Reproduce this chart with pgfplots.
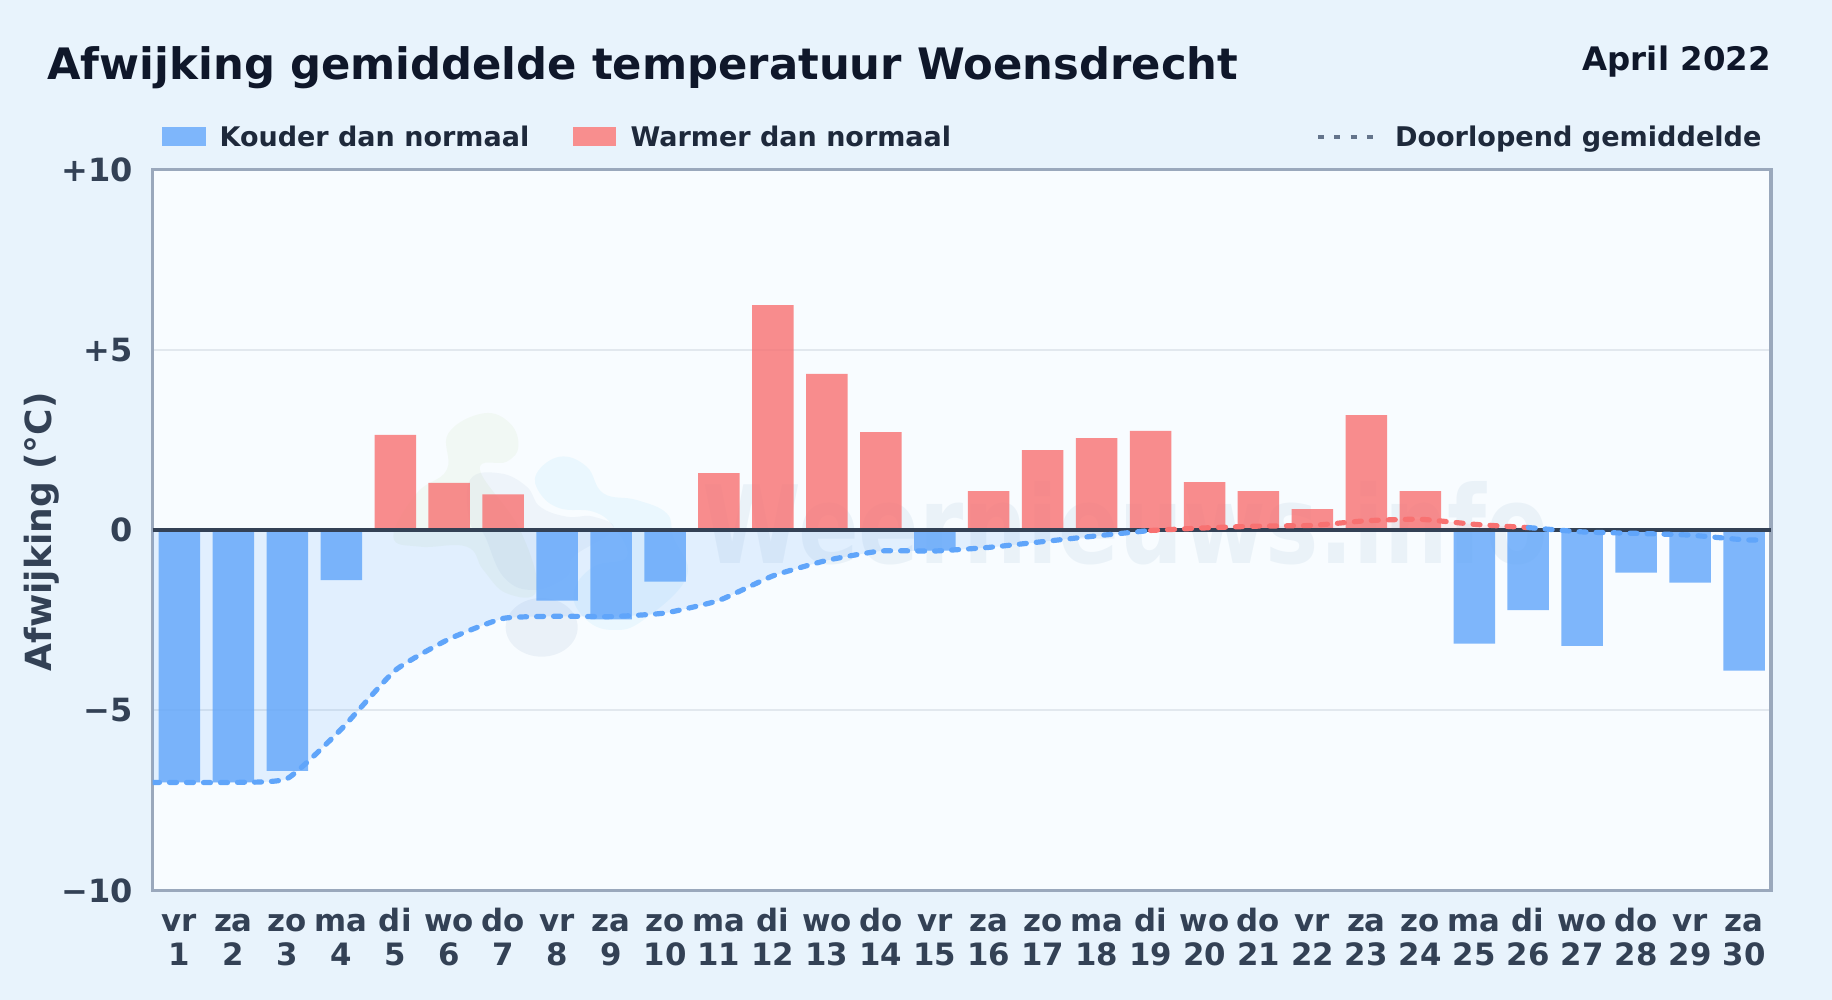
\documentclass[border=0pt]{standalone}
\usepackage{fontspec}
\usepackage{graphicx}
\usepackage{pgfplots}
\pgfplotsset{compat=1.18}
\setmainfont{DejaVu Sans}

\definecolor{pagebg}{HTML}{E8F3FC}
\definecolor{plotbg}{HTML}{F8FCFF}
\definecolor{coldbar}{HTML}{60A5FA}
\definecolor{warmbar}{HTML}{F87171}
\definecolor{coldswatch}{HTML}{7EB6FB}
\definecolor{warmswatch}{HTML}{F88E8E}
\definecolor{frame}{HTML}{9AA8BC}
\definecolor{gridc}{HTML}{E2E8EE}
\definecolor{ink}{HTML}{0F172A}
\definecolor{legendink}{HTML}{1E293B}
\definecolor{tickink}{HTML}{334155}
\definecolor{dashgrey}{HTML}{64748B}
\definecolor{logogreen}{HTML}{A3C97A}
\definecolor{logogrey}{HTML}{7F9DC0}
\definecolor{logoblue}{HTML}{38BDF8}
\definecolor{markcol}{HTML}{4A7FB0}

\newcommand{\fs}[1]{\bfseries\fontsize{#1}{#1}\selectfont}

\begin{document}
\begin{tikzpicture}
% page is 1832x1000 px, 1 px = 0.5 pt
\useasboundingbox (0,0) rectangle (916pt,500pt);
\fill[pagebg] (0,0) rectangle (916pt,500pt);
\fill[plotbg] (76.25pt,54.7pt) rectangle (885.5pt,415.2pt);

% watermark logo
\begin{scope}[shift={(180pt,305pt)},x=0.16667pt,y=-0.16667pt]
\fill[logogreen,opacity=0.08] plot[smooth cycle,tension=0.7] coordinates {
 (370,70)(450,100)(475,170)(440,215)(360,240)(480,420)(530,600)(440,610)(370,540)(320,470)(180,470)(100,440)(170,310)(260,240)(265,130)};
\fill[logogrey,opacity=0.08] plot[smooth cycle,tension=0.7] coordinates {
 (330,270)(420,250)(500,290)(540,350)(620,380)(700,380)(760,420)(640,500)(620,560)(520,600)(430,560)(370,430)(330,400)};
\fill[logogrey,opacity=0.11] (545,712) ellipse [x radius=108,y radius=88];
\fill[logoblue,opacity=0.07] plot[smooth cycle,tension=0.7] coordinates {
 (530,250)(600,200)(680,230)(730,310)(830,330)(920,370)(940,440)(980,560)(850,690)(760,720)(680,690)(640,610)(700,530)(800,500)(760,410)(700,365)(600,355)(540,310)};
\end{scope}
\node[anchor=base west,inner sep=0,text=markcol,opacity=0.08] at (351pt,218pt)
  {\scalebox{0.83}[1]{\fs{54}Weernieuws.info}};

\begin{axis}[
    at={(76.25pt,54.7pt)},
    anchor=south west,
    scale only axis,
    width=809.25pt,
    height=360.5pt,
    xmin=0.5, xmax=30.5,
    ymin=-10, ymax=10,
    xtick={1,...,30},
    xticklabels={{vr\\1},{za\\2},{zo\\3},{ma\\4},{di\\5},{wo\\6},{do\\7},{vr\\8},{za\\9},{zo\\10},
      {ma\\11},{di\\12},{wo\\13},{do\\14},{vr\\15},{za\\16},{zo\\17},{ma\\18},{di\\19},{wo\\20},
      {do\\21},{vr\\22},{za\\23},{zo\\24},{ma\\25},{di\\26},{wo\\27},{do\\28},{vr\\29},{za\\30}},
    ytick={-10,-5,0,5,10},
    yticklabels={−10,−5,0,+5,+10},
    major tick length=0pt,
    ymajorgrids=true,
    grid style={gridc,line width=1pt},
    axis line style={frame,line width=1.7pt},
    tick label style={tickink},
    xticklabel style={align=center,anchor=north,inner sep=0pt,yshift=-26.2pt,text height=11pt,
      font=\bfseries\fontsize{15.4}{16.8}\selectfont},
    yticklabel style={anchor=east,inner sep=0pt,xshift=-9.6pt,font=\fs{16}},
]

% area between running mean and zero
\addplot[draw=none,fill=coldbar,fill opacity=0.15,smooth,tension=0.3] coordinates {
  (0.5,-7.0)(1,-7.0)(2,-7.0)(3,-6.89)(4,-5.52)(5,-3.89)(6,-3.02)(7,-2.45)(8,-2.39)(9,-2.40)(10,-2.30)
  (11,-1.95)(12,-1.27)(13,-0.84)(14,-0.58)(15,-0.58)(16,-0.48)(17,-0.32)(18,-0.16)(19,-0.01)} \closedcycle;
\addplot[draw=none,fill=warmbar,fill opacity=0.1,smooth,tension=0.3] coordinates {
  (19,0)(20,0.06)(21,0.11)(22,0.13)(23,0.26)(24,0.30)(25,0.16)(26,0.07)} \closedcycle;

% bars
\addplot[ybar,bar width=20.75pt,bar shift=0pt,draw=none,fill=coldbar,fill opacity=0.8] coordinates {
  (1,-7.0)(2,-7.0)(3,-6.68)(4,-1.39)(8,-1.96)(9,-2.48)(10,-1.43)(15,-0.57)
  (25,-3.15)(26,-2.22)(27,-3.21)(28,-1.18)(29,-1.46)(30,-3.90)};
\addplot[ybar,bar width=20.75pt,bar shift=0pt,draw=none,fill=warmbar,fill opacity=0.8] coordinates {
  (5,2.64)(6,1.31)(7,0.99)(11,1.58)(12,6.24)(13,4.33)(14,2.72)(16,1.08)(17,2.22)(18,2.55)(19,2.75)
  (20,1.33)(21,1.08)(22,0.58)(23,3.19)(24,1.08)};

% zero line
\addplot[tickink,line width=2.2pt] coordinates {(0.5,0)(30.5,0)};

% running mean
\addplot[coldbar,line width=2.6pt,line cap=round,dash pattern=on 3.5pt off 5pt,smooth,tension=0.3] coordinates {
  (0.5,-7.0)(1,-7.0)(2,-7.0)(3,-6.89)(4,-5.52)(5,-3.89)(6,-3.02)(7,-2.45)(8,-2.39)(9,-2.40)(10,-2.30)
  (11,-1.95)(12,-1.27)(13,-0.84)(14,-0.58)(15,-0.58)(16,-0.48)(17,-0.32)(18,-0.16)(19,-0.01)};
\addplot[warmbar,line width=2.6pt,line cap=round,dash pattern=on 3.5pt off 5pt,smooth,tension=0.3] coordinates {
  (19,-0.01)(20,0.06)(21,0.11)(22,0.13)(23,0.26)(24,0.30)(25,0.16)(26,0.07)};
\addplot[coldbar,line width=2.6pt,line cap=round,dash pattern=on 3.5pt off 5pt,smooth,tension=0.3] coordinates {
  (26,0.07)(27,-0.05)(28,-0.09)(29,-0.14)(30,-0.27)(30.4,-0.27)};
\end{axis}

% title block
\node[anchor=base west,inner sep=0,text=ink] at (23.5pt,460pt) {\fs{21.66}Afwijking gemiddelde temperatuur Woensdrecht};
\node[anchor=base east,inner sep=0,text=ink] at (885.5pt,464.6pt) {\fs{16.2}April 2022};

% legend
\fill[coldswatch] (80.8pt,427pt) rectangle (102.9pt,436.65pt);
\node[anchor=base west,inner sep=0,text=legendink] at (109.6pt,426.6pt) {\fs{13.5}Kouder dan normaal};
\fill[warmswatch] (286.5pt,427pt) rectangle (308pt,436.65pt);
\node[anchor=base west,inner sep=0,text=legendink] at (315.1pt,426.6pt) {\fs{13.5}Warmer dan normaal};
\draw[dashgrey,line width=2pt,dash pattern=on 3pt off 5.15pt] (659pt,431.6pt) -- (688pt,431.6pt);
\node[anchor=base west,inner sep=0,text=legendink] at (697.3pt,426.6pt) {\fs{13.55}Doorlopend gemiddelde};

% y axis title
\node[rotate=90,anchor=base,inner sep=0,text=tickink] at (25.5pt,234.1pt) {\fs{18}Afwijking (°C)};
\end{tikzpicture}
\end{document}
